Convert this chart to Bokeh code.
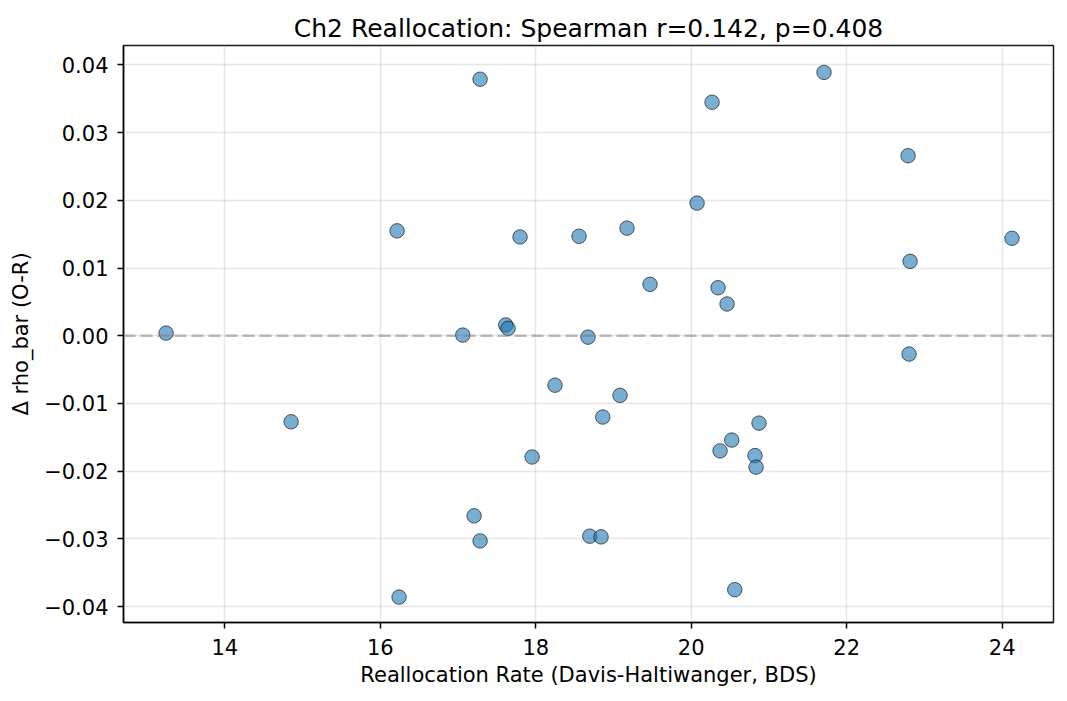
from bokeh.plotting import figure
from bokeh.models import Range1d, FixedTicker, CustomJSTickFormatter, Span
from bokeh.embed import file_html
from bokeh.resources import INLINE

# reallocation rate (x) and change in rho_bar (y)
realloc_rate = [13.245, 17.284, 16.216, 17.798, 18.557, 17.061, 17.614, 17.644,
                21.708, 20.268, 22.789, 20.075, 19.174, 24.126, 22.815, 19.470,
                20.345, 20.461, 18.672, 14.853, 18.248, 17.953, 17.207, 17.284,
                16.242, 22.802, 19.084, 18.862, 20.872, 20.521, 20.371, 20.820,
                20.834, 18.695, 18.840, 20.560]
delta_rho_bar = [0.0004, 0.0379, 0.0155, 0.0146, 0.0147, 0.0001, 0.0016, 0.0011,
                 0.0389, 0.0345, 0.0266, 0.0196, 0.0159, 0.0144, 0.0110, 0.0076,
                 0.0071, 0.0047, -0.0002, -0.0127, -0.0073, -0.0179, -0.0266, -0.0303,
                 -0.0386, -0.0027, -0.0088, -0.0120, -0.0129, -0.0154, -0.0170, -0.0177,
                 -0.0194, -0.0296, -0.0297, -0.0375]

x_ticks = [14, 16, 18, 20, 22, 24]
y_ticks = [-0.04, -0.03, -0.02, -0.01, 0.0, 0.01, 0.02, 0.03, 0.04]

title_text = "Ch2 Reallocation: Spearman r=0.142, p=0.408"
x_label = "Reallocation Rate (Davis-Haltiwanger, BDS)"
y_label = "\u0394 rho_bar (O-R)"

FONT = "DejaVu Sans"

p = figure(width=1060, height=695,
           output_backend="svg", toolbar_location=None,
           x_range=Range1d(12.697, 24.66), y_range=Range1d(-0.04235, 0.04288),
           title=title_text,
           min_border_left=123, min_border_right=7,
           min_border_top=45, min_border_bottom=73)

# 标题
p.title.align = "center"
p.title.text_font = FONT
p.title.text_font_size = "25px"
p.title.text_font_style = "normal"
p.title.text_color = "black"
p.title.standoff = 6

p.outline_line_color = "black"
p.outline_line_width = 1.5
p.outline_line_alpha = 0.9

# 网格
p.grid.grid_line_color = "#b0b0b0"
p.grid.grid_line_alpha = 0.3
p.grid.grid_line_width = 1.5

# 坐标轴
p.xaxis.ticker = FixedTicker(ticks=x_ticks)
p.yaxis.ticker = FixedTicker(ticks=y_ticks)
p.yaxis.formatter = CustomJSTickFormatter(code="""
    if (Math.abs(tick) < 1e-9) { return "0.00"; }
    return tick.toFixed(2).replace("-", "\\u2212");
""")
p.xaxis.axis_label = x_label
p.yaxis.axis_label = y_label

for ax in (p.xaxis, p.yaxis):
    ax.axis_line_color = "black"
    ax.axis_line_width = 1.5
    ax.axis_line_alpha = 0.9
    ax.major_tick_line_color = "black"
    ax.major_tick_line_width = 1.5
    ax.major_tick_out = 6
    ax.major_tick_in = 0
    ax.minor_tick_line_color = None
    ax.major_label_text_font = FONT
    ax.major_label_text_font_size = "21px"
    ax.major_label_text_color = "black"
    ax.axis_label_text_font = FONT
    ax.axis_label_text_font_size = "21px"
    ax.axis_label_text_font_style = "normal"
    ax.axis_label_text_color = "black"

p.xaxis.major_label_standoff = 10
p.xaxis.axis_label_standoff = 5
p.yaxis.major_label_standoff = 9
p.yaxis.axis_label_standoff = 8

# 零线
zero = Span(location=0, dimension="width", line_color="gray", line_alpha=0.5,
            line_width=2.5, line_dash="12 5")
p.add_layout(zero)

# 散点
p.scatter(realloc_rate, delta_rho_bar, size=14.5,
          fill_color="#1f77b4", fill_alpha=0.6,
          line_color="black", line_alpha=0.6, line_width=1)

open("out.html", "w").write(file_html(p, INLINE))
